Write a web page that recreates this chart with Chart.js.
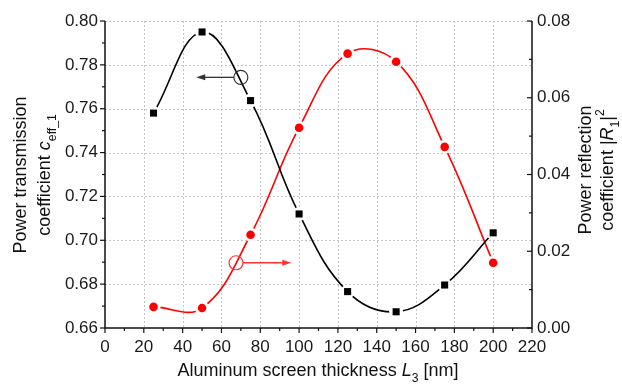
<!DOCTYPE html>
<html>
<head>
<meta charset="utf-8">
<script src="https://cdn.jsdelivr.net/npm/chart.js@4/dist/chart.umd.min.js"></script>
<style>
html,body{margin:0;padding:0;background:#fff;}
#wrap{width:622px;height:384px;position:relative;}
</style>
</head>
<body>
<div id="wrap"><canvas id="c" width="622" height="384"></canvas></div>
<script>
// ---- data ----
const thickness = [25, 50, 75, 100, 125, 150, 175, 200];            // L3 [nm]
const transmission = [0.758, 0.795, 0.7637, 0.712, 0.6766, 0.6674, 0.6796, 0.7034]; // c_eff_1 (left axis)
const reflection = [0.0055, 0.0052, 0.0243, 0.0522, 0.0715, 0.0694, 0.0472, 0.0170]; // |R1|^2 (right axis)
const xTicks = [0, 20, 40, 60, 80, 100, 120, 140, 160, 180, 200, 220];
const leftTicks = [0.66, 0.68, 0.70, 0.72, 0.74, 0.76, 0.78, 0.80];
const rightTicks = [0.00, 0.02, 0.04, 0.06, 0.08];

const FONT = '"Liberation Sans", Arial, Helvetica, sans-serif';
const TICK_SIZE = 17;
const TITLE_SIZE = 18;

function pts(xs, ys){ return xs.map((x,i)=>({x:x, y:ys[i]})); }

function richText(ctx, parts, cx, cy, rot, size){
  ctx.save();
  ctx.translate(cx, cy);
  if (rot) ctx.rotate(rot);
  ctx.textBaseline = 'alphabetic';
  ctx.textAlign = 'left';
  const fontFor = p => {
    const s = (p.sub || p.sup) ? size*0.68 : size;
    return (p.i ? 'italic ' : '') + s + 'px ' + FONT;
  };
  let w = 0;
  parts.forEach(p => { ctx.font = fontFor(p); w += ctx.measureText(p.t).width; });
  let x = -w/2;
  const base = size*0.36;
  parts.forEach(p => {
    ctx.font = fontFor(p);
    let y = base;
    if (p.sub) y = base + size*0.28;
    if (p.sup) y = base - size*0.5;
    ctx.fillStyle = '#111';
    ctx.fillText(p.t, x, y);
    x += ctx.measureText(p.t).width;
  });
  ctx.restore();
}

function arrow(ctx, x1, y, x2, color){
  const dir = Math.sign(x2 - x1);
  ctx.save();
  ctx.strokeStyle = color; ctx.fillStyle = color; ctx.lineWidth = 1.3;
  ctx.beginPath(); ctx.moveTo(x1, y); ctx.lineTo(x2 - dir*8, y); ctx.stroke();
  ctx.beginPath(); ctx.moveTo(x2, y); ctx.lineTo(x2 - dir*9, y - 3); ctx.lineTo(x2 - dir*9, y + 3); ctx.closePath(); ctx.fill();
  ctx.restore();
}

const decor = {
  id: 'decor',
  beforeDatasetsDraw(chart){
    const ctx = chart.ctx, a = chart.chartArea;
    const x = chart.scales.x, y = chart.scales.y;
    ctx.save();
    ctx.strokeStyle = '#c4c4c4'; ctx.lineWidth = 1; ctx.setLineDash([2, 2]);
    xTicks.forEach(v => {
      if (v === 0 || v === 220) return;
      const px = Math.round(x.getPixelForValue(v)) + 0.5;
      ctx.beginPath(); ctx.moveTo(px, a.top); ctx.lineTo(px, a.bottom); ctx.stroke();
    });
    leftTicks.forEach(v => {
      if (v === 0.66) return;
      const py = Math.round(y.getPixelForValue(v)) + 0.5;
      ctx.beginPath(); ctx.moveTo(a.left, py); ctx.lineTo(a.right, py); ctx.stroke();
    });
    ctx.restore();
  },
  afterDatasetsDraw(chart){
    const ctx = chart.ctx, a = chart.chartArea;
    const x = chart.scales.x, y = chart.scales.y, y2 = chart.scales.y2;
    ctx.save();
    ctx.strokeStyle = '#111'; ctx.lineWidth = 1.5; ctx.setLineDash([]);
    ctx.beginPath();
    ctx.moveTo(a.left, a.top); ctx.lineTo(a.left, a.bottom); ctx.lineTo(a.right, a.bottom); ctx.lineTo(a.right, a.top);
    ctx.stroke();
    ctx.lineWidth = 1.2;
    for (let v = 0; v <= 220; v += 10) {
      const px = x.getPixelForValue(v);
      const major = v % 20 === 0;
      ctx.beginPath(); ctx.moveTo(px, a.bottom); ctx.lineTo(px, a.bottom + (major ? 5 : 3)); ctx.stroke();
    }
    for (let i = 0; i <= 14; i++) {
      const py = y.getPixelForValue(0.66 + i*0.01);
      const major = i % 2 === 0;
      ctx.beginPath(); ctx.moveTo(a.left, py); ctx.lineTo(a.left - (major ? 5 : 3), py); ctx.stroke();
    }
    for (let i = 0; i <= 8; i++) {
      const py = y2.getPixelForValue(i*0.01);
      const major = i % 2 === 0;
      ctx.beginPath(); ctx.moveTo(a.right, py); ctx.lineTo(a.right - (major ? 5 : 3), py); ctx.stroke();
    }
    const bx = x.getPixelForValue(70), by = y.getPixelForValue(0.7743);
    ctx.strokeStyle = '#333'; ctx.lineWidth = 1.2;
    ctx.beginPath(); ctx.arc(bx, by, 7, 0, Math.PI*2); ctx.stroke();
    arrow(ctx, bx - 7, by, x.getPixelForValue(47), '#333');
    const rx = x.getPixelForValue(67.5), ry = y2.getPixelForValue(0.0170);
    ctx.strokeStyle = '#f33'; ctx.lineWidth = 1.2;
    ctx.beginPath(); ctx.arc(rx, ry, 7, 0, Math.PI*2); ctx.stroke();
    arrow(ctx, rx + 7, ry, x.getPixelForValue(96), '#f33');
    ctx.restore();

    richText(ctx, [{t:'Power transmission'}], 20, 175, -Math.PI/2, TITLE_SIZE);
    richText(ctx, [{t:'coefficient '}, {t:'c', i:true}, {t:'eff_1', sub:true}], 44, 175, -Math.PI/2, TITLE_SIZE);
    richText(ctx, [{t:'Power reflection'}], 585, 170, -Math.PI/2, TITLE_SIZE);
    richText(ctx, [{t:'coefficient |'}, {t:'R', i:true}, {t:'1', sub:true}, {t:'|'}, {t:'2', sup:true}], 607, 170, -Math.PI/2, TITLE_SIZE);
    richText(ctx, [{t:'Aluminum screen thickness '}, {t:'L', i:true}, {t:'3', sub:true}, {t:' [nm]'}], 318, 370, 0, TITLE_SIZE);
  }
};

const tickFont = {family: FONT, size: TICK_SIZE};

new Chart(document.getElementById('c'), {
  type: 'line',
  data: {
    datasets: [
      {data: pts(thickness, transmission), yAxisID: 'y', borderColor: '#000', borderWidth: 1.6, pointRadius: 0, tension: 0.4, fill: false, order: 5},
      {data: pts(thickness, reflection), yAxisID: 'y2', borderColor: '#ff0000', borderWidth: 1.6, pointRadius: 0, tension: 0.4, fill: false, order: 5},
      {data: pts(thickness, transmission), yAxisID: 'y', showLine: false, pointStyle: 'circle', pointRadius: 7, pointBackgroundColor: '#fff', pointBorderWidth: 0, order: 3},
      {data: pts(thickness, reflection), yAxisID: 'y2', showLine: false, pointStyle: 'circle', pointRadius: 7, pointBackgroundColor: '#fff', pointBorderWidth: 0, order: 3},
      {data: pts(thickness, transmission), yAxisID: 'y', showLine: false, pointStyle: 'rect', pointRadius: 5, pointBackgroundColor: '#000', pointBorderWidth: 0, order: 1},
      {data: pts(thickness, reflection), yAxisID: 'y2', showLine: false, pointStyle: 'circle', pointRadius: 4.3, pointBackgroundColor: '#ff0000', pointBorderWidth: 0, order: 1}
    ]
  },
  options: {
    responsive: false,
    animation: false,
    events: [],
    layout: {padding: {top: 21, left: 0, right: 0, bottom: 0}},
    plugins: {legend: {display: false}, tooltip: {enabled: false}},
    scales: {
      x: {
        type: 'linear', min: 0, max: 220,
        afterBuildTicks: s => { s.ticks = xTicks.map(v => ({value: v})); },
        grid: {display: false, drawTicks: false}, border: {display: false},
        ticks: {font: tickFont, color: '#1a1a1a', padding: 9, maxRotation: 0, autoSkip: false},
        afterFit: s => { s.height = 56; }
      },
      y: {
        type: 'linear', position: 'left', min: 0.66, max: 0.80,
        afterBuildTicks: s => { s.ticks = leftTicks.map(v => ({value: v})); },
        grid: {display: false, drawTicks: false}, border: {display: false},
        ticks: {font: tickFont, color: '#1a1a1a', padding: 7, callback: v => v.toFixed(2)},
        afterFit: s => { s.width = 105; }
      },
      y2: {
        type: 'linear', position: 'right', min: 0, max: 0.08,
        afterBuildTicks: s => { s.ticks = rightTicks.map(v => ({value: v})); },
        grid: {display: false, drawTicks: false}, border: {display: false},
        ticks: {font: tickFont, color: '#1a1a1a', padding: 5, callback: v => v.toFixed(2)},
        afterFit: s => { s.width = 90; }
      }
    }
  },
  plugins: [decor]
});
</script>
</body>
</html>
